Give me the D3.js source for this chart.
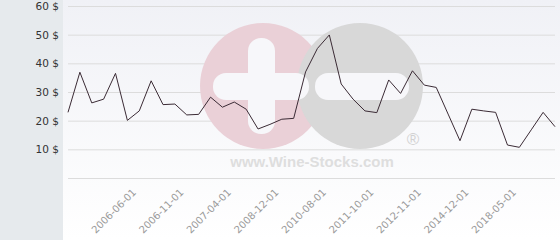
<!DOCTYPE html>
<html>
<head>
<meta charset="utf-8">
<script src="https://cdn.jsdelivr.net/npm/d3@7"></script>
<style>
  body { margin: 0; background: #fff; }
  svg { display: block; font-family: "DejaVu Sans", Verdana, sans-serif; }
</style>
</head>
<body>
<svg id="chart" width="560" height="240"></svg>
<script>
// price per point, in order (categorical x axis)
const prices = [
  22.9, 36.9, 26.2, 27.5, 36.5, 20.1, 23.4, 33.9, 25.6, 25.8,
  22.0, 22.2, 28.2, 24.7, 26.5, 24.0, 17.1, 18.7, 20.5, 20.8,
  37.0, 45.2, 49.9, 32.8, 27.5, 23.4, 22.8, 34.2, 29.5, 37.4,
  32.4, 31.6, 22.3, 13.0, 24.0, 23.4, 22.9, 11.5, 10.7, 16.8,
  22.9, 17.9
]
const tickIndex = [6, 10, 14, 18, 22, 26, 30, 34, 38]
const tickLabels = ['2006-06-01', '2006-11-01', '2007-04-01', '2008-12-01',
  '2010-08-01', '2011-10-01', '2012-11-01', '2014-12-01', '2018-05-01']
const yTicks = [10, 20, 30, 40, 50, 60]
const gridTicks = [0, 10, 20, 30, 40, 50, 60]

const svg = d3.select('#chart')
const margin = {top: 6, left: 68, right: 5, bottom: 62}
const width = 560 - margin.left - margin.right
const height = 240 - margin.top - margin.bottom

const defs = svg.append('defs')
const grad = defs.append('linearGradient')
  .attr('id', 'bg').attr('x1', 0).attr('y1', 0).attr('x2', 0).attr('y2', 1)
grad.append('stop').attr('offset', '0%').attr('stop-color', '#f0f1f6')
grad.append('stop').attr('offset', '100%').attr('stop-color', '#ffffff')

// panels
svg.append('rect').attr('x', 0).attr('y', 0).attr('width', 63).attr('height', 240).attr('fill', '#e6eaed')
svg.append('rect').attr('x', 63).attr('y', 0).attr('width', 497).attr('height', 240).attr('fill', 'url(#bg)')

const xScale = d3.scalePoint()
  .domain(d3.range(prices.length))
  .range([margin.left, margin.left + width])

const yScale = d3.scaleLinear()
  .domain([0, 60])
  .range([margin.top + height, margin.top])

// gridlines
svg.append('g')
  .attr('transform', 'translate(' + margin.left + ',0)')
  .call(d3.axisLeft(yScale).tickValues(gridTicks).tickSize(-width).tickFormat(''))
  .call(g => g.select('.domain').remove())
  .call(g => g.selectAll('line').attr('stroke', '#dcdcdc'))

// watermark
const wm = svg.append('g')
wm.append('circle').attr('cx', 263).attr('cy', 86).attr('r', 63).attr('fill', '#ead0d7')
wm.append('circle').attr('cx', 360).attr('cy', 86).attr('r', 63).attr('fill', '#d8d8d8')
wm.append('rect').attr('x', 248).attr('y', 38).attr('width', 27).attr('height', 96).attr('rx', 13).attr('fill', '#f7f7fa')
wm.append('rect').attr('x', 213).attr('y', 73).attr('width', 96).attr('height', 27).attr('rx', 13).attr('fill', '#f7f7fa')
wm.append('rect').attr('x', 315).attr('y', 73).attr('width', 94).attr('height', 27).attr('rx', 13).attr('fill', '#f7f7fa')
wm.append('text').attr('x', 312).attr('y', 167).attr('text-anchor', 'middle')
  .style('font-family', '"Liberation Sans", Arial, sans-serif').style('font-weight', 'bold')
  .style('font-size', '15px').attr('fill', '#dedede').text('www.Wine-Stocks.com')
wm.append('text').attr('x', 413).attr('y', 145).attr('text-anchor', 'middle')
  .style('font-family', '"Liberation Sans", Arial, sans-serif')
  .style('font-size', '17px').attr('fill', '#d2d2d2').text('®')

// y labels
svg.append('g')
  .attr('transform', 'translate(63,0)')
  .call(d3.axisLeft(yScale).tickValues(yTicks).tickSize(0).tickPadding(4).tickFormat(d => d + ' $'))
  .call(g => g.select('.domain').remove())
  .call(g => g.selectAll('text').attr('fill', '#333').style('font-size', '10.5px').style('font-family', '"DejaVu Sans", sans-serif'))

// x labels
svg.append('g')
  .attr('transform', 'translate(0,' + (margin.top + height) + ')')
  .call(d3.axisBottom(xScale).tickValues(tickIndex).tickSize(0).tickFormat((d, i) => tickLabels[i]))
  .call(g => g.select('.domain').remove())
  .call(g => g.selectAll('text')
    .attr('text-anchor', 'end')
    .attr('dy', 0)
    .attr('y', 0)
    .attr('transform', 'translate(-3,15) rotate(-45)')
    .attr('fill', '#9a9a9a')
    .style('font-size', '10px')
    .style('font-family', '"DejaVu Sans", sans-serif'))

// price line
const line = d3.line()
  .x((d, i) => xScale(i))
  .y(d => yScale(d))

svg.append('path')
  .datum(prices)
  .attr('d', line)
  .attr('fill', 'none')
  .attr('stroke', '#3b2b35')
  .attr('stroke-width', 1)
</script>
</body>
</html>
